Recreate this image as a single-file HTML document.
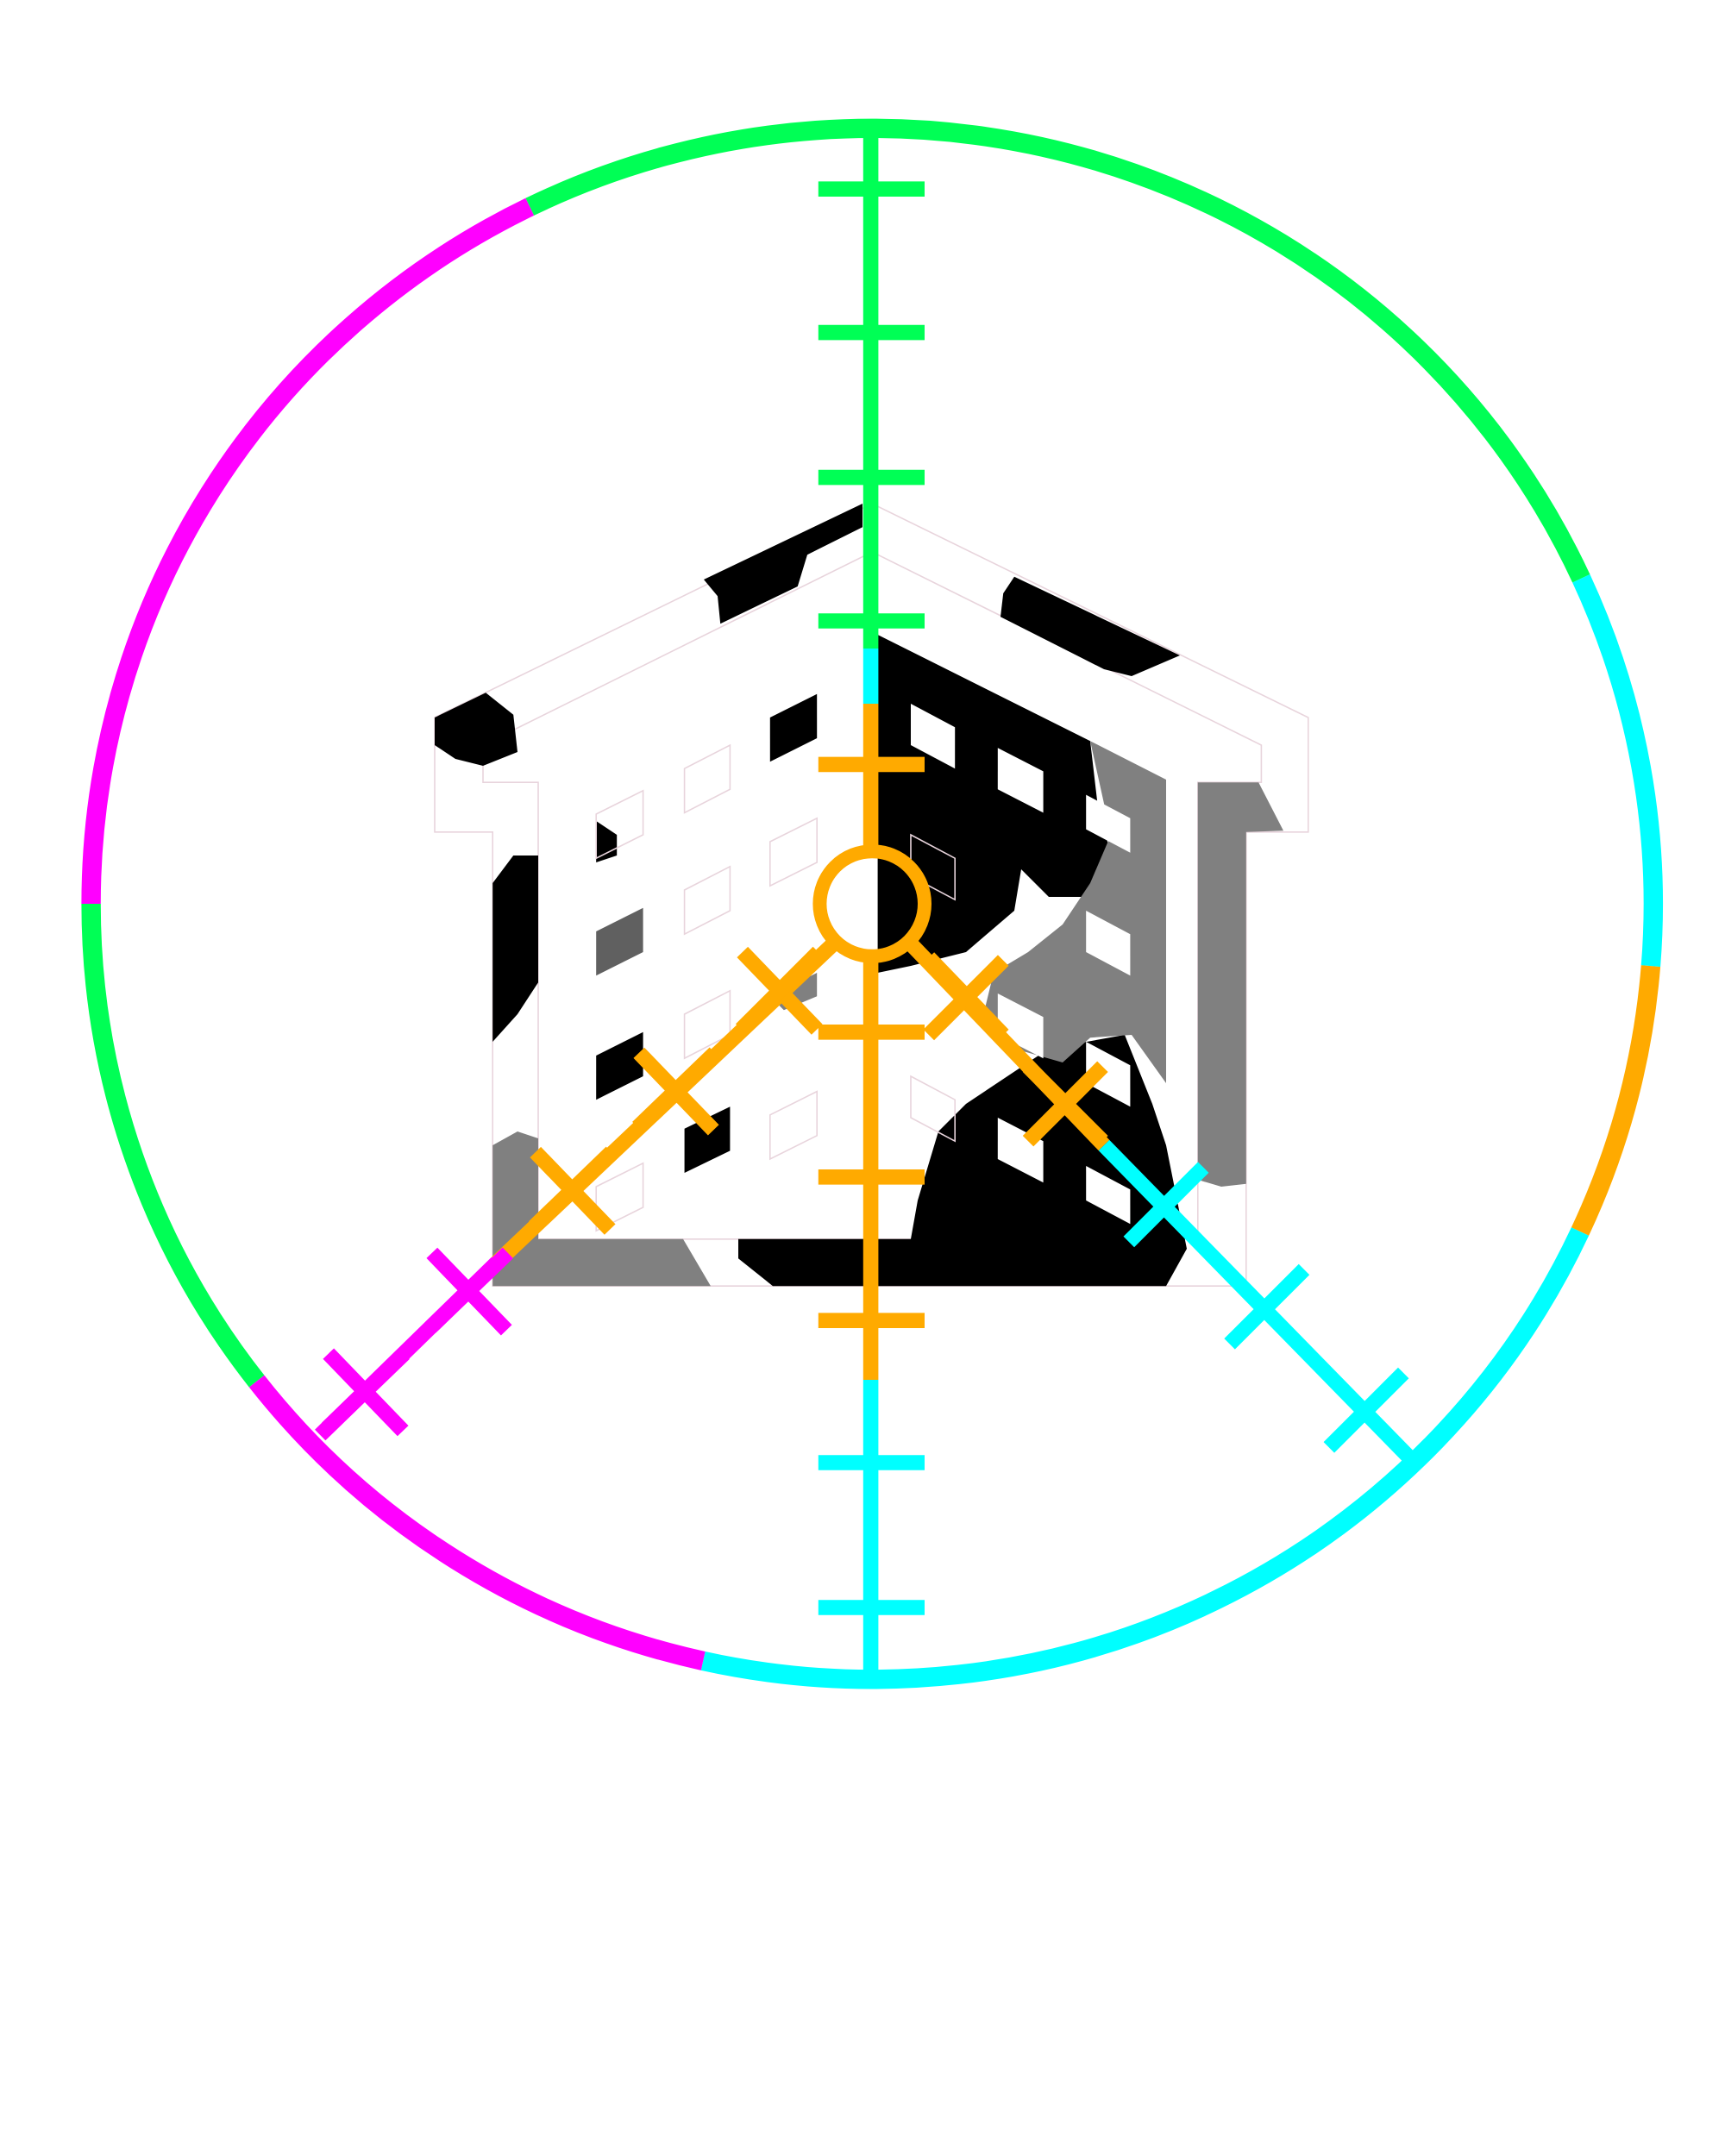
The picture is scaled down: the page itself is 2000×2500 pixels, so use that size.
<!DOCTYPE html>
<html><head><meta charset="utf-8"><style>html,body{margin:0;padding:0;background:#fff}svg{display:block}</style></head>
<body>
<svg width="2000" height="2500" viewBox="0 0 1250 1562.5" xmlns="http://www.w3.org/2000/svg">
<rect width="1250" height="1562.5" fill="#fff"/>
<path d="M315,520 L632,365 L948,520 L948,603 L903,603 L903,932 L357,932 L357,603 L315,603 Z" fill="#fff" stroke="#e8d4dc" stroke-width="1"/>
<path d="M350,540 L632,400 L914,540 L914,567 L868,567 L868,898 L390,898 L390,567 L350,567 Z" fill="#fff" stroke="#e8d4dc" stroke-width="1"/>
<g fill="#000">
<path d="M510,420 L625,365 L625,382 L585,402 L578,425 L522,452 L520,432 Z"/>
<path d="M735,418 L855,475 L820,490 L800,485 L725,447 L727,430 Z"/>
<path d="M315,520 L352,502 L372,518 L375,545 L350,555 L330,550 L315,540 Z"/>
<path d="M636,460 L790,537 L795,580 L805,620 L790,650 L760,650 L740,630 L735,660 L700,690 L660,700 L636,705 Z"/>
<path d="M700,800 L760,760 L815,750 L835,800 L845,830 L860,905 L845,932 L560,932 L535,912 L535,898 L660,898 L665,870 L680,820 Z"/>
<path d="M357,640 L372,620 L390,620 L390,712 L375,735 L357,755 Z"/>
<path d="M432,595 L447,605 L447,620 L432,625 Z"/>
<path d="M432,765 L466,748 L466,780 L432,797 Z"/>
<path d="M558,520 L592,503 L592,535 L558,552 Z"/>
<path d="M496,818 L529,802 L529,834 L496,850 Z"/>
</g>
<g fill="#808080">
<path d="M790,537 L845,565 L845,785 L820,750 L790,752 L770,770 L735,760 L712,738 L720,705 L745,690 L770,670 L790,640 L805,605 Z"/>
<path d="M868,567 L912,567 L930,602 L903,603 L903,858 L885,860 L868,855 Z"/>
<path d="M357,830 L375,820 L390,825 L390,898 L495,898 L515,932 L357,932 Z"/>
<path d="M558,722 L592,705 L592,722 L568,732 Z"/>
</g>
<path d="M432,675 L466,658 L466,690 L432,707 Z" fill="#606060"/>
<g fill="#fff">
<path d="M660,510 L692,527 L692,557 L660,540 Z"/>
<path d="M723,542 L756,559 L756,589 L723,572 Z"/>
<path d="M787,576 L819,593 L819,618 L787,601 Z"/>
<path d="M787,660 L819,677 L819,707 L787,690 Z"/>
<path d="M723,720 L756,737 L756,767 L723,750 Z"/>
<path d="M787,755 L819,772 L819,802 L787,785 Z"/>
<path d="M723,810 L756,827 L756,857 L723,840 Z"/>
<path d="M787,845 L819,862 L819,887 L787,870 Z"/>
</g>
<g fill="none" stroke="#e8d4dc" stroke-width="1">
<path d="M432,590 L466,573 L466,605 L432,622 Z"/>
<path d="M496,557 L529,540 L529,572 L496,589 Z"/>
<path d="M496,645 L529,628 L529,660 L496,677 Z"/>
<path d="M558,610 L592,593 L592,625 L558,642 Z"/>
<path d="M496,735 L529,718 L529,750 L496,767 Z"/>
<path d="M558,808 L592,791 L592,823 L558,840 Z"/>
<path d="M432,860 L466,843 L466,875 L432,892 Z"/>
<path d="M660,605 L692,622 L692,652 L660,635 Z"/>
<path d="M660,780 L692,797 L692,827 L660,810 Z"/>
</g>
<g fill="none" stroke-width="14">
<path d="M383.9,149.9 A566,562 0 0 1 1145.8,419.2" stroke="#00ff55"/>
<path d="M1145.8,419.2 A566,562 0 0 1 1196.2,700.1" stroke="#00ffff"/>
<path d="M1196.2,700.1 A566,562 0 0 1 1145,892.5" stroke="#ffaa00"/>
<path d="M1145,892.5 A566,562 0 0 1 509.5,1203.7" stroke="#00ffff"/>
<path d="M509.5,1203.7 A566,562 0 0 1 186,1001" stroke="#ff00ff"/>
<path d="M186,1001 A566,562 0 0 1 66,655" stroke="#00ff55"/>
<path d="M66,655 A566,562 0 0 1 383.9,149.9" stroke="#ff00ff"/>
</g>
<g stroke-width="11" fill="none">
<line x1="631" y1="93" x2="631" y2="470" stroke="#00ff55"/>
<line x1="631" y1="470" x2="631" y2="510" stroke="#00ffff"/>
<line x1="631" y1="510" x2="631" y2="617" stroke="#ffaa00"/>
<line x1="631" y1="693" x2="631" y2="1000" stroke="#ffaa00"/>
<line x1="631" y1="1000" x2="631" y2="1218" stroke="#00ffff"/>
<g stroke="#00ff55"><line x1="593" y1="137" x2="670" y2="137"/><line x1="593" y1="241" x2="670" y2="241"/><line x1="593" y1="346" x2="670" y2="346"/><line x1="593" y1="450" x2="670" y2="450"/></g>
<g stroke="#ffaa00"><line x1="593" y1="554" x2="670" y2="554"/><line x1="593" y1="748" x2="670" y2="748"/><line x1="593" y1="853" x2="670" y2="853"/><line x1="593" y1="957" x2="670" y2="957"/></g>
<g stroke="#00ffff"><line x1="593" y1="1060" x2="670" y2="1060"/><line x1="593" y1="1165" x2="670" y2="1165"/></g>
<circle cx="632" cy="655" r="38" stroke="#ffaa00" stroke-width="10"/>
<line x1="605" y1="683" x2="360" y2="915" stroke="#ffaa00"/>
<line x1="360" y1="915" x2="232" y2="1040" stroke="#ff00ff"/>
<g stroke="#ffaa00"><line x1="538" y1="690" x2="592" y2="746"/><line x1="537" y1="746" x2="593" y2="690"/>
<line x1="463" y1="763" x2="517" y2="819"/><line x1="462" y1="817" x2="518" y2="763"/>
<line x1="388" y1="835" x2="442" y2="891"/><line x1="387" y1="889" x2="443" y2="835"/></g>
<g stroke="#ff00ff"><line x1="313" y1="908" x2="367" y2="964"/><line x1="312" y1="962" x2="368" y2="908"/>
<line x1="238" y1="981" x2="292" y2="1037"/><line x1="237" y1="1035" x2="293" y2="981"/></g>
<line x1="659" y1="683" x2="800" y2="830" stroke="#ffaa00"/>
<line x1="800" y1="830" x2="1020" y2="1055" stroke="#00ffff"/>
<g stroke="#ffaa00"><line x1="673" y1="750" x2="727" y2="696"/><line x1="673" y1="694" x2="727" y2="750"/>
<line x1="745" y1="827" x2="799" y2="773"/><line x1="745" y1="773" x2="799" y2="827"/></g>
<g stroke="#00ffff"><line x1="818" y1="900" x2="872" y2="846"/>
<line x1="891" y1="974" x2="945" y2="920"/>
<line x1="963" y1="1049" x2="1017" y2="995"/></g>
</g>
</svg>
</body></html>
